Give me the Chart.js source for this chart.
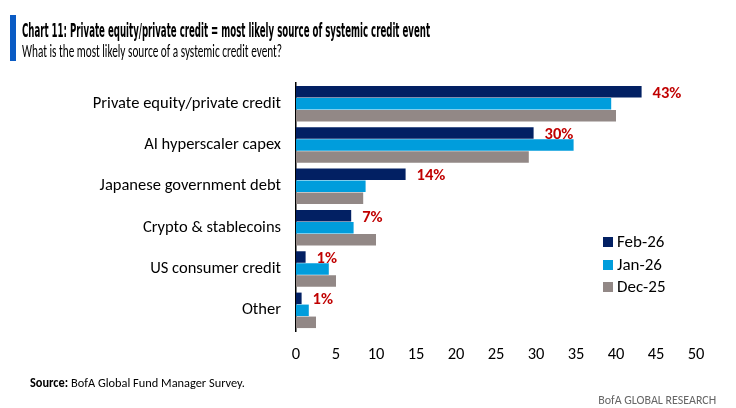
<!DOCTYPE html>
<html>
<head>
<meta charset="utf-8">
<script src="https://cdn.jsdelivr.net/npm/chart.js@4.4.1/dist/chart.umd.min.js"></script>
<style>
  html, body { margin: 0; padding: 0; background: #fff; }
  #wrap { position: relative; width: 736px; height: 408px; overflow: hidden; font-family: Carlito, "Liberation Sans", sans-serif; }
  #chart { position: absolute; left: 0; top: 0; }
  .bluebar { position: absolute; left: 10px; top: 15px; width: 6px; height: 46px; background: #0a5bc4; }
  .title { position: absolute; left: 22px; top: 20px; font-family: "Liberation Sans Narrow", "DejaVu Sans Condensed", sans-serif; font-weight: bold; font-size: 19px; line-height: 20px; color: #000; white-space: nowrap; transform-origin: 0 0; }
  .subtitle { position: absolute; left: 22px; top: 41px; font-size: 19px; line-height: 20px; color: #000; white-space: nowrap; transform-origin: 0 0; }
  .source { position: absolute; left: 30px; top: 375px; font-size: 13px; color: #000; white-space: nowrap; transform-origin: 0 0; }
  .brand { position: absolute; right: 20px; top: 392px; font-size: 13px; color: #666; white-space: nowrap; transform-origin: 100% 0; }
  .legend { position: absolute; left: 603px; top: 231px; font-size: 17px; color: #000; }
  .legend div { height: 22.5px; line-height: 21px; white-space: nowrap; }
  .legend span { display: inline-block; width: 10px; height: 10px; margin-right: 4px; vertical-align: 0px; }
</style>
</head>
<body>
<div id="wrap">
  <canvas id="chart" width="736" height="408"></canvas>
  <div class="bluebar"></div>
  <div class="title" data-w="408">Chart 11: Private equity/private credit = most likely source of systemic credit event</div>
  <div class="subtitle" data-w="260">What is the most likely source of a systemic credit event?</div>
  <div class="source" data-w="215"><b>Source:</b> BofA Global Fund Manager Survey.</div>
  <div class="brand" data-w="118">BofA GLOBAL RESEARCH</div>
  <div class="legend" id="legend"></div>
</div>
<script>
const categories = ["Private equity/private credit", "AI hyperscaler capex", "Japanese government debt", "Crypto & stablecoins", "US consumer credit", "Other"];
const seriesNames = ["Feb-26", "Jan-26", "Dec-25"];
const feb26 = [43.2, 29.7, 13.7, 6.9, 1.2, 0.7];
const jan26 = [39.4, 34.7, 8.7, 7.2, 4.1, 1.6];
const dec25 = [40.0, 29.1, 8.4, 10.0, 5.0, 2.5];
const febLabels = ["43%", "30%", "14%", "7%", "1%", "1%"];
const xTicks = [0, 5, 10, 15, 20, 25, 30, 35, 40, 45, 50];
const colors = ["#022063", "#009ddc", "#928886"];
const calibri = "Carlito, 'Liberation Sans', sans-serif";

// squeeze the html texts to the widths they have in the picture
document.querySelectorAll('[data-w]').forEach(el => {
  const w = el.getBoundingClientRect().width;
  el.style.transform = `scaleX(${parseFloat(el.dataset.w) / w})`;
});

document.getElementById('legend').innerHTML = seriesNames.map((n, i) =>
  `<div><span style="background:${colors[i]}"></span>${n}</div>`).join('');

const valueLabels = {
  id: 'valueLabels',
  afterDatasetsDraw(chart) {
    const { ctx } = chart;
    const meta = chart.getDatasetMeta(0);
    ctx.save();
    ctx.font = `bold 16.5px ${calibri}`;
    ctx.fillStyle = "#c00000";
    ctx.textBaseline = "middle";
    ctx.textAlign = "left";
    meta.data.forEach((bar, i) => {
      ctx.fillText(febLabels[i], bar.x + 11, bar.y + 2);
    });
    ctx.restore();
  }
};

new Chart(document.getElementById('chart'), {
  type: 'bar',
  data: {
    labels: categories,
    datasets: [
      { label: seriesNames[0], data: feb26, backgroundColor: colors[0] },
      { label: seriesNames[1], data: jan26, backgroundColor: colors[1] },
      { label: seriesNames[2], data: dec25, backgroundColor: colors[2] }
    ].map(ds => ({ ...ds, categoryPercentage: 0.87, barPercentage: 0.96 }))
  },
  options: {
    indexAxis: 'y',
    responsive: false,
    animation: false,
    layout: { padding: { top: 83, right: 40, left: 0, bottom: 0 } },
    scales: {
      x: {
        min: 0, max: 50,
        afterBuildTicks: s => { s.ticks = xTicks.map(v => ({ value: v })); },
        afterFit: s => { s.height = 77; },
        grid: { display: false, drawTicks: false },
        border: { display: false },
        ticks: { color: '#000', padding: 14, font: { size: 16.5, family: calibri } }
      },
      y: {
        afterFit: s => { s.width = 296; },
        grid: { display: false, drawTicks: false },
        border: { display: true, color: '#000', width: 1.5 },
        ticks: { color: '#000', padding: 15, font: { size: 16.5, family: calibri } }
      }
    },
    plugins: {
      legend: { display: false },
      tooltip: { enabled: false }
    }
  },
  plugins: [valueLabels]
});
</script>
</body>
</html>
